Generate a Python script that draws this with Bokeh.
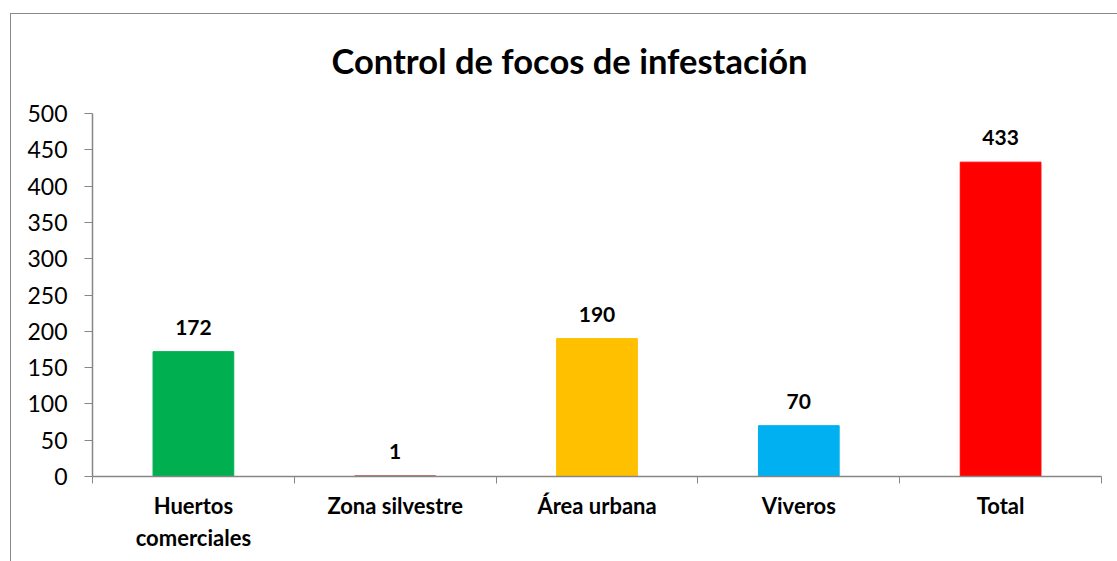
from bokeh.plotting import figure
from bokeh.models import Range1d, FixedTicker, ColumnDataSource, LabelSet, Title, InlineStyleSheet
from bokeh.core.properties import value
from bokeh.embed import file_html
from bokeh.resources import INLINE

categories = ["Huertos\ncomerciales", "Zona silvestre", "Área urbana", "Viveros", "Total"]
values = [172, 1, 190, 70, 433]
colors = ["#00B050", "#C0504D", "#FFC000", "#00B0F0", "#FF0000"]
y_ticks = [0, 50, 100, 150, 200, 250, 300, 350, 400, 450, 500]
title_text = "Control de focos de infestación"

FONT = "Lato"
xs = [i + 0.5 for i in range(len(categories))]
src = ColumnDataSource(dict(x=xs, top=values, color=colors, label=[str(v) for v in values]))

p = figure(width=1104, height=553, output_backend="svg", toolbar_location=None,
           x_range=Range1d(0, len(categories)), y_range=Range1d(0, 500),
           min_border_left=92, min_border_right=3, min_border_bottom=77, min_border_top=113)
p.title = None
p.add_layout(Title(text=title_text, align="left", offset=239, standoff=65,
                   text_font=FONT, text_font_size="34.5px", text_font_style="bold",
                   text_color="#000000"), "above")

p.vbar(x="x", top="top", width=0.4, bottom=0, color="color", source=src)
p.add_layout(LabelSet(x="x", y="top", text="label", source=src, y_offset=17,
                      text_align="center", text_baseline="alphabetic", text_font=value(FONT),
                      text_font_size="21px", text_font_style="bold", text_color="#000000"))

p.xgrid.visible = False
p.ygrid.visible = False
p.outline_line_color = None

ax = p.xaxis[0]
ax.ticker = FixedTicker(ticks=xs, minor_ticks=list(range(len(categories) + 1)))
ax.major_label_overrides = {x: c for x, c in zip(xs, categories)}
ax.major_tick_line_color = None
ax.major_tick_out = 0
ax.minor_tick_line_color = "#868686"
ax.minor_tick_out = 7
ax.minor_tick_in = 0
ax.axis_line_color = "#868686"
ax.axis_line_width = 1.5
ax.major_label_standoff = 8
ax.major_label_text_font = FONT
ax.major_label_text_font_size = "22px"
ax.major_label_text_font_style = "bold"
ax.major_label_text_color = "#000000"

ay = p.yaxis[0]
ay.ticker = FixedTicker(ticks=y_ticks)
ay.minor_tick_line_color = None
ay.major_tick_in = 0
ay.major_tick_out = 8
ay.major_tick_line_color = "#868686"
ay.axis_line_color = "#868686"
ay.axis_line_width = 1.5
ay.major_label_standoff = 17
ay.major_label_text_font = FONT
ay.major_label_text_font_size = "23px"
ay.major_label_text_color = "#000000"

p.stylesheets = [InlineStyleSheet(css="""
:host { position: relative; overflow: visible; }
:host::after {
  content: "";
  position: absolute;
  left: 10px; top: 13px; right: -13px; bottom: -8px;
  border-left: 1.5px solid #898989;
  border-top: 1.5px solid #898989;
  pointer-events: none;
  z-index: 10;
}
""")]

open("out.html", "w").write(file_html(p, INLINE))
